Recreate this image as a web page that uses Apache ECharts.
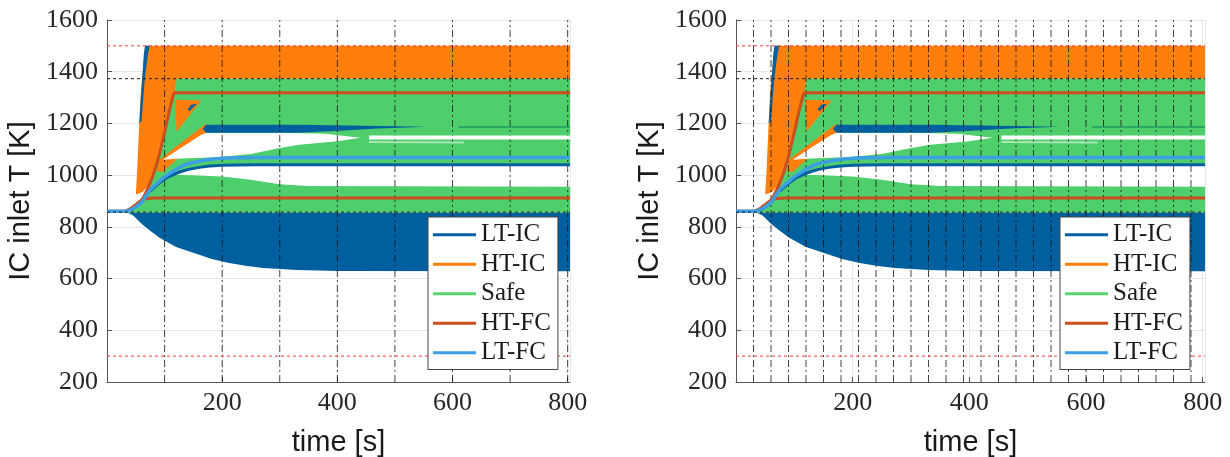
<!DOCTYPE html>
<html><head><meta charset="utf-8">
<script src="https://cdn.jsdelivr.net/npm/echarts@6/dist/echarts.min.js"></script>
<style>html,body{margin:0;padding:0;background:#fff}#c{width:1230px;height:457px}</style>
</head><body><div id="c"></div>
<script>
// ---------------- data (time [s], temperature [K]) ----------------
const classNames = ['LT-IC', 'HT-IC', 'Safe', 'HT-FC', 'LT-FC'];
const xMin = 0, xMax = 804, yMin = 200, yMax = 1600;
const switchTimesLeft = [100, 200, 300, 400, 500, 600, 700, 800];
const switchTimesRight = [30, 60, 90, 120, 150, 180, 210, 240, 270, 300, 330, 360, 390, 420, 450, 480, 510, 540, 570, 600, 630, 660, 690, 720, 750, 780];
const limitLines = [1500, 300];      // red dashed
const refLines = [1373, 857];        // black dashed

// filled envelopes of trajectory families, polygons of [t, T]
const htIcFan = [[50,925],[52,1000],[54,1100],[56,1200],[58,1300],[61,1380],[64,1450],[68,1500],[804,1500],[804,1373],[122,1373],[118,1319],[113,1290],[106,1227],[97,1137],[87,1048],[75,970],[62,935]];
const ltIcStreak = [[56,1200],[59,1300],[62,1400],[64,1470],[66,1500],[74,1500],[70,1450],[66,1380],[63,1300],[60,1210]];
const safeMain = [[30,860],[45,872],[60,900],[72,950],[85,1040],[95,1128],[104,1218],[111,1282],[117,1315],[121,1373],[804,1373],[804,855],[36,855]];
const htIcTriangle = [[118,1292],[164,1289],[121,1168]];
const ltIcBlob = [[140,1255],[146,1272],[156,1276],[150,1262],[143,1247]];
const htIcStripe = [[86,1016],[92,1062],[170,1196],[180,1192],[176,1170],[97,1012]];
const gapLower = [[102,1005],[130,1015],[160,1030],[200,1037],[804,1038],[804,955],[350,958],[300,965],[250,982],[200,995],[150,1000],[120,1002]];
const gapUpper = [[97,1060],[130,1108],[161,1152],[172,1164],[300,1164],[380,1160],[440,1145],[400,1131],[334,1118],[300,1105],[250,1082],[190,1069],[150,1066],[120,1063]];
const ltIcBand = [[166,1178],[172,1195],[334,1195],[420,1192],[556,1187],[470,1180],[404,1172],[334,1164],[172,1164]];
const ltIcBottom = [[30,860],[45,845],[61,810],[75,785],[92,757],[120,722],[151,699],[182,676],[212,660],[243,649],[272,641],[330,633],[400,629],[804,628],[804,855],[36,855]];

// individual trajectories
const htFcUpper = [[0,860],[30,860],[50,880],[62,910],[72,955],[80,1000],[87,1048],[92,1090],[97,1137],[102,1185],[106,1227],[110,1265],[114,1298],[118,1319],[804,1319]];
const htFcLower = [[30,860],[42,872],[52,890],[60,903],[70,910],[85,912],[804,912]];
const ltIcLine = [[75,938],[100,985],[130,1015],[160,1030],[200,1038],[260,1040],[804,1040]];
const ltFcLine = [[0,860],[30,860],[45,870],[60,895],[75,943],[88,970],[100,993],[118,1020],[135,1040],[160,1054],[190,1063],[220,1067],[260,1068],[804,1068]];
const gapLine = [[455,1146],[804,1146]];
const gapLineFaint = [[455,1128],[620,1126]];
const safeEdgeLine = [[610,1186],[804,1186]];

// ---------------- styling ----------------
const C = { ltic:'#00609F', htic:'#FF7F0E', safe:'#4FCF6C', htfc:'#CC4E1E', ltfc:'#3D9FE3' };
const legendColors = { 'LT-IC':C.ltic, 'HT-IC':C.htic, 'Safe':'#5AD46F', 'HT-FC':C.htfc, 'LT-FC':C.ltfc };
const serif = '"Liberation Serif", "DejaVu Serif", serif', sans = '"Liberation Sans", Arial, sans-serif';

function poly(name, pts, color, gi) {
  return { type:'custom', name, xAxisIndex:gi, yAxisIndex:gi, clip:true, silent:true,
    itemStyle:{color}, data:[[pts[0][0], pts[0][1]]],
    renderItem:(p, api) => ({ type:'polygon', shape:{ points: pts.map(q => api.coord(q)) }, style:{ fill:color } }) };
}
function line(name, pts, color, width, gi, dash, opacity) {
  return { type:'line', name, xAxisIndex:gi, yAxisIndex:gi, data:pts, showSymbol:false, symbol:'none',
    silent:true, smooth:0.25, itemStyle:{color},
    lineStyle:{ color, width, type: dash || 'solid', opacity: opacity == null ? 1 : opacity } };
}
function hLines(values, color, gi, dash) {
  return values.map(v => ({ type:'line', xAxisIndex:gi, yAxisIndex:gi, data:[[xMin,v],[xMax,v]], showSymbol:false,
    symbol:'none', silent:true, lineStyle:{ color, width:1, type:dash } }));
}
function vLines(times, gi) {
  return { type:'custom', xAxisIndex:gi, yAxisIndex:gi, clip:true, silent:true,
    data: times.map(t => [t, yMin]),
    renderItem:(p, api) => {
      const a = api.coord([api.value(0), yMin]), b = api.coord([api.value(0), yMax]);
      return { type:'line', shape:{ x1:a[0], y1:a[1], x2:b[0], y2:b[1] },
        style:{ stroke:'#151515', lineWidth:1, lineDash:[7,3,2,3], opacity:0.8 } };
    } };
}
function panelSeries(gi, switchTimes) {
  return [
    poly('HT-IC', htIcFan, C.htic, gi),
    poly('LT-IC', ltIcStreak, C.ltic, gi),
    poly('Safe', safeMain, C.safe, gi),
    poly('HT-IC', htIcTriangle, C.htic, gi),
    poly('LT-IC', ltIcBlob, C.ltic, gi),
    poly('HT-IC', htIcStripe, C.htic, gi),
    poly('gap', gapLower, '#ffffff', gi),
    poly('gap', gapUpper, '#ffffff', gi),
    poly('LT-IC', ltIcBand, C.ltic, gi),
    poly('LT-IC', ltIcBottom, C.ltic, gi),
    line('gap', gapLine, '#ffffff', 4, gi),
    line('gap', gapLineFaint, '#ffffff', 2, gi, 'solid', 0.5),
    line('Safe', safeEdgeLine, '#1E9A62', 1.5, gi),
    line('HT-FC', htFcUpper, C.htfc, 3, gi),
    line('HT-FC', htFcLower, C.htfc, 3, gi),
    line('LT-IC', ltIcLine, C.ltic, 3, gi),
    line('LT-FC', ltFcLine, C.ltfc, 3.5, gi),
    ...hLines(limitLines, '#FF3B3B', gi, [3,3]),
    ...hLines(refLines, '#1a1a1a', gi, [3,3]),
    vLines(switchTimes, gi)
  ];
}
function xAxis(gi) {
  return { gridIndex:gi, type:'value', min:xMin, max:xMax, interval:200,
    name:'time [s]', nameLocation:'middle', nameGap:46,
    nameTextStyle:{ fontFamily:sans, fontSize:29, color:'#1a1a1a' },
    axisLine:{ show:true, lineStyle:{ color:'#555' } },
    axisTick:{ show:true, inside:true, length:5, lineStyle:{ color:'#555' } },
    axisLabel:{ fontFamily:serif, fontSize:26, color:'#262626', margin:8, showMaxLabel:false,
      formatter: v => (v > 0 && v % 200 === 0) ? String(v) : '' },
    splitLine:{ show:true, lineStyle:{ color:'#e6e6e6' } } };
}
function yAxis(gi) {
  return { gridIndex:gi, type:'value', min:yMin, max:yMax, interval:200,
    name:'IC inlet T [K]', nameLocation:'middle', nameGap:72,
    nameTextStyle:{ fontFamily:sans, fontSize:29, color:'#1a1a1a' },
    axisLine:{ show:true, lineStyle:{ color:'#555' } },
    axisTick:{ show:true, inside:true, length:5, lineStyle:{ color:'#555' } },
    axisLabel:{ fontFamily:serif, fontSize:26, color:'#262626', margin:9, formatter: v => String(v) },
    splitLine:{ show:true, lineStyle:{ color:'#e6e6e6' } } };
}
function legend(left) {
  return { left, top:217, orient:'vertical', icon:'rect', itemWidth:43, itemHeight:3, itemGap:0,
    backgroundColor:'#fff', borderColor:'#444', borderWidth:1, padding:[3,7,2,5], selectedMode:false,
    textStyle:{ fontFamily:serif, fontSize:25, color:'#1a1a1a', lineHeight:29.5 },
    data: classNames.map(n => ({ name:n, itemStyle:{ color:legendColors[n] } })) };
}

const chart = echarts.init(document.getElementById('c'), null, { renderer:'canvas' });
chart.setOption({
  animation:false,
  textStyle:{ fontFamily:serif },
  grid:[ { left:107, top:20, width:463, height:362, containLabel:false, outerBoundsMode:'none' },
         { left:736, top:20, width:469, height:362, containLabel:false, outerBoundsMode:'none' } ],
  xAxis:[ xAxis(0), xAxis(1) ],
  yAxis:[ yAxis(0), yAxis(1) ],
  legend:[ legend(428), legend(1060) ],
  series:[ ...panelSeries(0, switchTimesLeft), ...panelSeries(1, switchTimesRight) ]
});
</script></body></html>
